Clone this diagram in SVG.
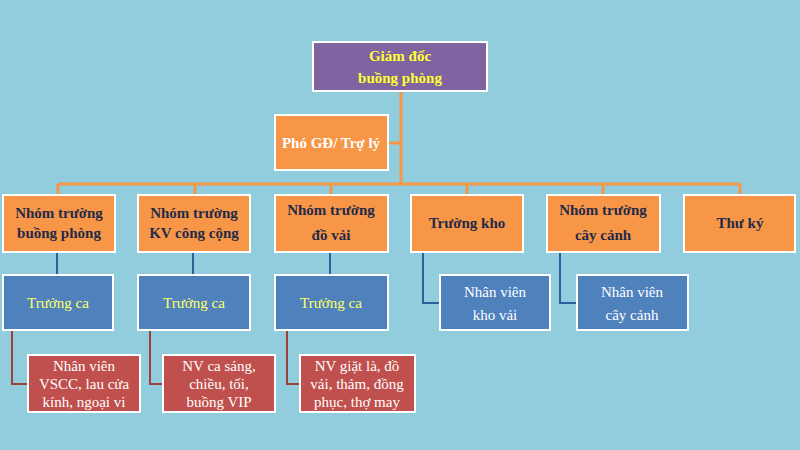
<svg xmlns="http://www.w3.org/2000/svg" width="800" height="450" viewBox="0 0 800 450">
<style>
.o{fill:#f79646;stroke:#fff;stroke-width:2}
.b{fill:#4f81bd;stroke:#fff;stroke-width:2}
.r{fill:#c0504d;stroke:#fff;stroke-width:2}
.p{fill:#8064a2;stroke:#fff;stroke-width:2}
text{font-family:"Liberation Serif",serif;text-anchor:middle}
.ot{font-weight:bold;font-size:15px;fill:#1f2a4a}
.wt{font-size:15px;fill:#fff}
.yt{font-size:15px;fill:#ffff66}
.lo{stroke:#f79646;stroke-width:3;fill:none}
.lb{stroke:#2e5f9a;stroke-width:2;fill:none}
.lr{stroke:#a0403d;stroke-width:2;fill:none}
</style>
<rect width="800" height="450" fill="#92cddd"/>
<g id="connectors">
<path class="lo" d="M401 91V184M388 143H401M58 184H740M58 184V195M195 184V195M331 184V195M467 184V195M603 184V195M740 184V195"/>
<path class="lb" d="M57 252V275M193 252V275M330 252V275M423 252V303H440M560 252V303H577"/>
<path class="lr" d="M12 330V384H28M150 330V384H163M287 330V384H300"/>
</g>
<g id="gd"><rect class="p" x="313" y="42" width="174" height="49"/><text x="400" y="61" style="font-weight:bold;font-size:15px;fill:#ffff33">Giám đốc</text><text x="400" y="83" style="font-weight:bold;font-size:15px;fill:#ffff33">buồng phòng</text></g>
<g id="pgd"><rect class="o" x="275" y="115" width="113" height="55"/><text x="331" y="148" class="ot" style="fill:#fff">Phó GĐ/ Trợ lý</text></g>
<g id="n1"><rect class="o" x="3" y="195" width="112" height="57"/><text x="59" y="218" class="ot">Nhóm trường</text><text x="59" y="238" class="ot">buồng phòng</text></g>
<g id="n2"><rect class="o" x="138" y="195" width="112" height="57"/><text x="194" y="218" class="ot">Nhóm trường</text><text x="194" y="238" class="ot">KV công cộng</text></g>
<g id="n3"><rect class="o" x="275" y="195" width="113" height="57"/><text x="331" y="215" class="ot">Nhóm trường</text><text x="331" y="240" class="ot">đồ vải</text></g>
<g id="n4"><rect class="o" x="411" y="195" width="112" height="57"/><text x="467" y="228" class="ot">Trường kho</text></g>
<g id="n5"><rect class="o" x="547" y="195" width="113" height="57"/><text x="603" y="215" class="ot">Nhóm trường</text><text x="603" y="240" class="ot">cây cảnh</text></g>
<g id="n6"><rect class="o" x="684" y="195" width="111" height="57"/><text x="740" y="228" class="ot">Thư ký</text></g>
<g id="t1"><rect class="b" x="3" y="275" width="110" height="55"/><text x="58" y="308" class="yt">Trưởng ca</text></g>
<g id="t2"><rect class="b" x="138" y="275" width="112" height="55"/><text x="194" y="308" class="yt">Trưởng ca</text></g>
<g id="t3"><rect class="b" x="275" y="275" width="113" height="55"/><text x="331" y="308" class="yt">Trưởng ca</text></g>
<g id="k1"><rect class="b" x="440" y="275" width="110" height="55"/><text x="495" y="297" class="wt">Nhân viên</text><text x="495" y="320" class="wt">kho vải</text></g>
<g id="k2"><rect class="b" x="577" y="275" width="111" height="55"/><text x="632" y="297" class="wt">Nhân viên</text><text x="632" y="320" class="wt">cây cảnh</text></g>
<g id="r1"><rect class="r" x="28" y="355" width="112" height="57"/><text x="84" y="371" class="wt">Nhân viên</text><text x="84" y="389" class="wt">VSCC, lau cửa</text><text x="84" y="407" class="wt">kính, ngoại vi</text></g>
<g id="r2"><rect class="r" x="163" y="355" width="112" height="57"/><text x="219" y="371" class="wt">NV ca sáng,</text><text x="219" y="389" class="wt">chiều, tối,</text><text x="219" y="407" class="wt">buồng VIP</text></g>
<g id="r3"><rect class="r" x="300" y="355" width="115" height="57"/><text x="357" y="371" class="wt">NV giặt là, đồ</text><text x="357" y="389" class="wt">vải, thảm, đồng</text><text x="357" y="407" class="wt">phục, thợ may</text></g>
</svg>
